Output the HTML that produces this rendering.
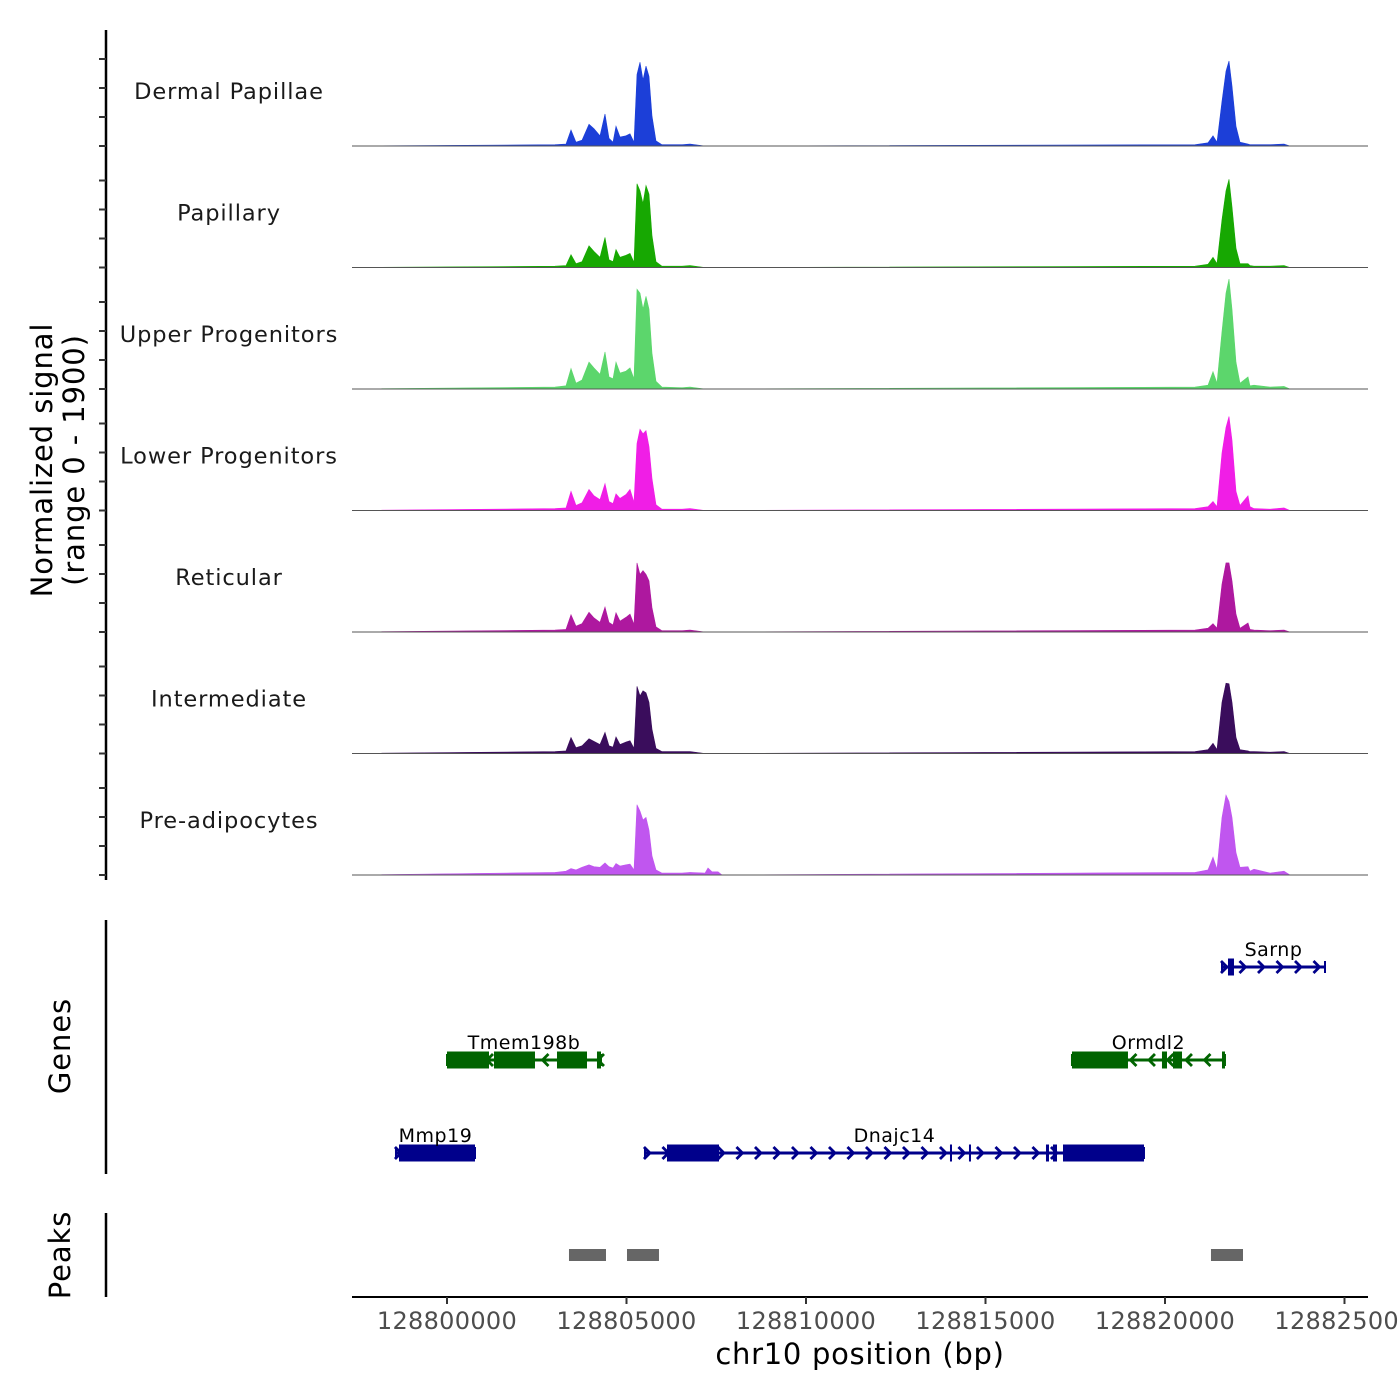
<!DOCTYPE html>
<html><head><meta charset="utf-8"><style>
html,body{margin:0;padding:0;background:#fff;}
svg{display:block;font-family:"DejaVu Sans","Liberation Sans",sans-serif;}
</style></head><body>
<svg id="chart" width="1400" height="1400" viewBox="0 0 1400 1400" xmlns="http://www.w3.org/2000/svg"></svg>
<script>
// ---- data ----
const trackNames = ["Dermal Papillae","Papillary","Upper Progenitors","Lower Progenitors","Reticular","Intermediate","Pre-adipocytes"];
const trackColors = ["#1c3fd8","#17a802","#5cd66c","#f01ee6","#ae189f","#3a0d5c","#c056ef"];
const positions = [128797354,128803008,128803315,128803454,128803593,128803760,128803955,128804095,128804262,128804401,128804513,128804624,128804707,128804819,128804986,128805097,128805209,128805292,128805376,128805460,128805543,128805627,128805710,128805822,128805989,128806546,128806769,128807187,128807270,128807382,128807549,128807660,128820836,128821198,128821337,128821448,128821588,128821699,128821783,128821866,128821977,128822089,128822312,128822368,128822479,128822925,128823315,128823482,128825655];
const sigDermal = [0,20,30,250,60,90,340,270,160,500,120,60,310,140,160,190,60,1120,1310,1030,1250,1090,470,80,20,20,30,0,0,0,0,0,20,50,160,60,700,1170,1330,940,310,60,30,20,20,20,30,0,0];
const sigPapillary = [0,20,30,200,60,90,340,250,160,470,120,90,280,160,190,220,80,1310,1200,1000,1280,1150,500,90,20,20,30,0,0,0,0,0,20,50,160,60,750,1200,1380,950,300,60,60,30,20,20,30,0,0];
const sigUpper = [0,30,50,320,90,140,420,330,230,580,190,160,420,250,280,330,160,1560,1500,1250,1450,1250,560,120,30,20,30,0,0,0,0,0,30,60,270,90,900,1500,1720,1250,420,90,190,50,60,30,40,0,0];
const sigLower = [0,30,40,300,80,120,330,230,170,420,140,110,260,190,250,330,130,1050,1270,1200,1250,1000,500,90,20,20,30,0,0,0,0,0,30,60,140,60,900,1300,1470,1100,300,80,230,60,30,20,40,0,0];
const sigReticular = [0,30,40,270,90,130,310,220,150,390,150,110,300,170,230,280,120,1080,900,960,900,800,380,80,20,20,30,0,0,0,0,0,30,60,130,60,750,1080,1080,800,280,60,140,40,30,20,30,0,0];
const sigIntermediate = [0,30,40,250,90,120,230,190,140,330,120,100,260,140,180,200,80,1050,900,980,950,800,380,80,30,30,30,0,0,0,0,0,30,60,160,60,800,1100,1090,800,250,60,40,30,30,20,30,0,0];
const sigPreadipo = [0,40,60,100,80,120,160,130,120,190,130,110,180,140,160,170,80,1100,1000,860,900,700,300,80,30,30,40,30,110,50,50,0,40,80,280,90,900,1250,1150,900,350,120,130,60,90,30,60,0,0];
const xTicks = [128800000,128805000,128810000,128815000,128820000,128825000];
const xTickLabels = ["128800000","128805000","128810000","128815000","128820000","128825000"];
const geneNames = ["Sarnp","Tmem198b","Ormdl2","Mmp19","Dnajc14"];
const geneStarts = [128821588,128800000,128817409,128798579,128805515];
const geneEnds = [128824457,128804290,128821671,128800780,128819415];
const geneStrand = ["+","-","-","+","+"];
const geneRow = [0,1,1,2,2];
const geneExons = [
  [[128821755,128821922]],
  [[128800000,128801170],[128801309,128802451],[128803064,128803900],[128804178,128804290]],
  [[128817409,128818969],[128819916,128820056],[128820223,128820474],[128821588,128821671]],
  [[128798663,128800780]],
  [[128806128,128807577],[128814011,128814067],[128814540,128814596],[128816685,128816769],[128816880,128816992],[128817159,128819415]]
];
const peakStarts = [128803398,128805014,128821281];
const peakEnds = [128804429,128805905,128822173];

// ---- scales ----
const X0=352, X1=1368, BP0=128797354, BP1=128825655;
const xs = bp => X0 + (bp-BP0)/(BP1-BP0)*(X1-X0);
const SIG_MAX=1900, TRACK_H=121.5, BASE0=146;
const baseY = i => BASE0 + i*TRACK_H;
const ys = (i,v) => baseY(i) - v/SIG_MAX*TRACK_H;

const svg=document.getElementById('chart');
const NS="http://www.w3.org/2000/svg";
function mk(tag,attrs,parent){const e=document.createElementNS(NS,tag);for(const k in attrs)e.setAttribute(k,attrs[k]);(parent||svg).appendChild(e);return e;}

const signals=[sigDermal,sigPapillary,sigUpper,sigLower,sigReticular,sigIntermediate,sigPreadipo];
let ax=mk('line',{x1:106,y1:30,x2:106,y2:880,stroke:'#000','stroke-width':2.5});


for(let i=0;i<7;i++){
  for(let k=0;k<4;k++){
    const y=baseY(i)-k*29;
    const t=mk('line',{x1:99,y1:y,x2:106,y2:y,stroke:'#333','stroke-width':2});
    
    
  }
}
for(let i=0;i<7;i++){
  const g=mk('g',{});
  
  
  let d='M'+xs(positions[0])+','+baseY(i);
  positions.forEach((p,j)=>{d+=' L'+xs(p).toFixed(1)+','+ys(i,signals[i][j]).toFixed(1);});
  d+=' L'+xs(positions[positions.length-1])+','+baseY(i)+' Z';
  const a=mk('path',{d:d,fill:trackColors[i],stroke:trackColors[i],'stroke-width':0.6,'stroke-linejoin':'miter'},g);
  
  
  const bl=mk('line',{x1:X0,y1:baseY(i),x2:X1,y2:baseY(i),stroke:'#555','stroke-width':1},g);
  
  
  const tl=mk('text',{x:229,y:baseY(i)-47,'text-anchor':'middle','font-size':22.5,'letter-spacing':0.9,fill:'#1a1a1a'},g);
  tl.textContent=trackNames[i];
  
  
}
const yt=mk('text',{transform:'translate(52,460) rotate(-90)','text-anchor':'middle','font-size':29,'letter-spacing':0.9,fill:'#000'});


const s1=mk('tspan',{x:0,dy:0},yt);s1.textContent='Normalized signal';
const s2=mk('tspan',{x:0,dy:32},yt);s2.textContent='(range 0 - 1900)';

let ga=mk('line',{x1:106,y1:920,x2:106,y2:1174,stroke:'#000','stroke-width':2.5});


const gt=mk('text',{transform:'translate(70,1046) rotate(-90)','text-anchor':'middle','font-size':29,'letter-spacing':0.9,fill:'#000'});
gt.textContent='Genes';


const rowY=[967,1060,1153];
geneNames.forEach((n,gi)=>{
  const col=geneStrand[gi]=='+'?'#00008b':'#006400';
  const y=rowY[geneRow[gi]];
  const g=mk('g',{});
  
  
  const xa=xs(geneStarts[gi]), xb=xs(geneEnds[gi]);
  mk('line',{x1:xa,y1:y,x2:xb,y2:y,stroke:col,'stroke-width':3},g);
  const step=18.5;
  for(let x=xa+4;x<=xb-2;x+=step){
    const dir=geneStrand[gi]=='+'?1:-1;
    mk('path',{d:`M${x-5*dir},${y-6} L${x+1*dir},${y} L${x-5*dir},${y+6}`,fill:'none',stroke:col,'stroke-width':2.8},g);
  }
  mk('line',{x1:xa,y1:y-6,x2:xa,y2:y+6,stroke:col,'stroke-width':2},g);
  mk('line',{x1:xb,y1:y-6,x2:xb,y2:y+6,stroke:col,'stroke-width':2},g);
  geneExons[gi].forEach(e=>{
    const r=mk('rect',{x:xs(e[0]),y:y-8.5,width:Math.max(2,xs(e[1])-xs(e[0])),height:17,fill:col},g);
    
    
  });
  const t=mk('text',{x:(xa+xb)/2,y:y-11,'text-anchor':'middle','font-size':19,'letter-spacing':0.5,fill:'#000'},g);
  t.textContent=n;
  
  
});

let pa=mk('line',{x1:106,y1:1213,x2:106,y2:1297,stroke:'#000','stroke-width':2.5});


const pt=mk('text',{transform:'translate(70,1255) rotate(-90)','text-anchor':'middle','font-size':29,'letter-spacing':0.9,fill:'#000'});
pt.textContent='Peaks';


peakStarts.forEach((s,i)=>{
  const r=mk('rect',{x:xs(s),y:1249,width:xs(peakEnds[i])-xs(s),height:12,fill:'#666'});
  
  
});

let xa=mk('line',{x1:X0,y1:1297,x2:X1,y2:1297,stroke:'#000','stroke-width':2});


xTicks.forEach((b,i)=>{
  const x=xs(b);
  const t=mk('line',{x1:x,y1:1297,x2:x,y2:1304,stroke:'#333','stroke-width':2});
  
  
  const l=mk('text',{x:x,y:1329,'text-anchor':'middle','font-size':24,'letter-spacing':0.3,fill:'#4d4d4d'});
  l.textContent=xTickLabels[i];
  
  
});
const xt=mk('text',{x:860,y:1364,'text-anchor':'middle','font-size':29,'letter-spacing':0.7,fill:'#000'});
xt.textContent='chr10 position (bp)';


</script>
</body></html>
